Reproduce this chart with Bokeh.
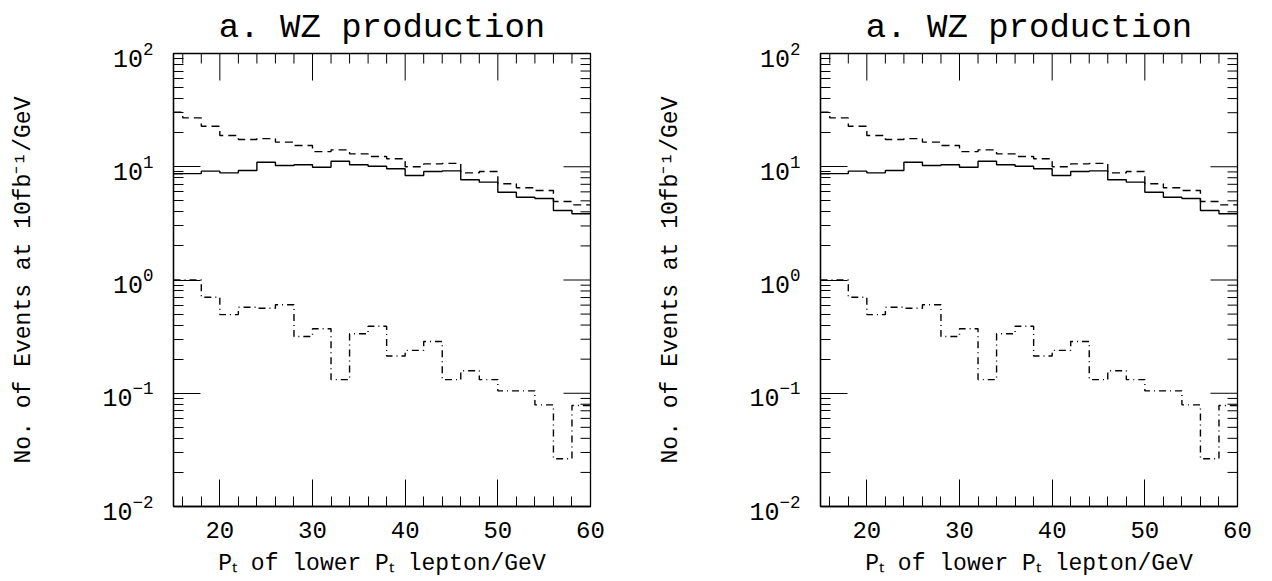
from bokeh.plotting import figure
from bokeh.models import FixedTicker, Range1d
from bokeh.layouts import row
from bokeh.embed import file_html
from bokeh.resources import INLINE

# ---- data ----
bin_edges = [15, 16, 18, 20, 22, 24, 26, 28, 30, 32, 34, 36, 38, 40,
             42, 44, 46, 48, 50, 52, 54, 56, 58, 60]

solid_vals = [8.67, 8.7, 9.14, 8.83, 9.27, 10.96, 10.25, 10.4, 9.9, 11.2,
              10.4, 10.1, 9.6, 8.37, 9.08, 9.2, 7.67, 7.31, 5.96, 5.38,
              5.25, 4.11, 3.85]

dashed_vals = [30.3, 27.0, 22.8, 18.9, 17.4, 17.7, 16.5, 15.4, 13.6, 14.1,
               13.0, 12.3, 11.76, 10.0, 10.6, 10.7, 8.83, 9.08, 7.07, 6.52,
               6.17, 4.93, 4.61]

dashdot_vals = [1.0, 1.0, 0.705, 0.495, 0.575, 0.563, 0.604, 0.317, 0.371,
                0.132, 0.335, 0.391, 0.213, 0.239, 0.286, 0.132, 0.158,
                0.132, 0.105, 0.105, 0.079, 0.0264, 0.078]

x_limits = [15, 60]
y_limits = [0.01, 100]
x_major_ticks = [20, 30, 40, 50, 60]
x_minor_ticks = [16, 18, 22, 24, 26, 28, 32, 34, 36, 38, 42, 44, 46, 48,
                 52, 54, 56, 58]
y_major_ticks = [0.01, 0.1, 1, 10, 100]
y_minor_ticks = [0.02, 0.03, 0.04, 0.05, 0.06, 0.07, 0.08, 0.09,
                 0.2, 0.3, 0.4, 0.5, 0.6, 0.7, 0.8, 0.9,
                 2, 3, 4, 5, 6, 7, 8, 9,
                 20, 30, 40, 50, 60, 70, 80, 90]

title_text = "a. WZ production"
x_label = "P\u209c of lower P\u209c lepton/GeV"
y_label = "No. of Events at 10fb\u207b\u00b9/GeV"

FONT = "Liberation Mono"
MAJOR_LEN = 27
MINOR_LEN = 10


def style_axis(ax):
    ax.major_tick_in = MAJOR_LEN
    ax.major_tick_out = 0
    ax.minor_tick_in = MINOR_LEN
    ax.minor_tick_out = 0
    ax.major_tick_line_color = "black"
    ax.minor_tick_line_color = "black"
    ax.major_tick_line_width = 1
    ax.minor_tick_line_width = 1
    ax.axis_line_color = "black"
    ax.axis_line_width = 1.3
    ax.major_label_text_font = FONT
    ax.major_label_text_color = "black"
    ax.axis_label_text_font = FONT
    ax.axis_label_text_font_style = "normal"
    ax.axis_label_text_color = "black"


def make_panel(border_left, border_right):
    p = figure(x_range=Range1d(*x_limits), y_range=Range1d(*y_limits),
               y_axis_type="log", frame_width=417, frame_height=453,
               min_border_left=border_left, min_border_right=border_right,
               min_border_top=53, min_border_bottom=75,
               output_backend="svg", toolbar_location=None,
               title=title_text)
    p.title.text_font = FONT
    p.title.text_font_size = "34px"
    p.title.text_font_style = "normal"
    p.title.align = "center"
    p.title.vertical_align = "top"
    p.title.text_color = "black"
    p.title.standoff = 10
    p.grid.visible = False
    p.outline_line_color = "black"
    p.outline_line_width = 1.3
    p.background_fill_color = "white"
    p.border_fill_color = "white"

    xa = p.xaxis[0]
    xa.ticker = FixedTicker(ticks=x_major_ticks, minor_ticks=x_minor_ticks)
    style_axis(xa)
    xa.major_label_text_font_size = "24px"
    xa.major_label_standoff = 15
    xa.axis_label = x_label
    xa.axis_label_text_font_size = "23px"
    xa.axis_label_standoff = 10

    ya = p.yaxis[0]
    ya.ticker = FixedTicker(ticks=y_major_ticks, minor_ticks=y_minor_ticks)
    style_axis(ya)
    ya.major_label_text_font_size = "25px"
    ya.major_label_standoff = 20
    ya.axis_label = y_label
    ya.axis_label_text_font_size = "23px"
    ya.axis_label_standoff = 62

    # inward ticks on the top and right edges of the frame
    top_y = y_limits[1]
    right_x = x_limits[1]
    p.ray(x=x_major_ticks, y=[top_y] * len(x_major_ticks), length=MAJOR_LEN,
          length_units="screen", angle=-90, angle_units="deg",
          line_color="black", line_width=1)
    p.ray(x=x_minor_ticks, y=[top_y] * len(x_minor_ticks), length=MINOR_LEN,
          length_units="screen", angle=-90, angle_units="deg",
          line_color="black", line_width=1)
    p.ray(x=[right_x] * len(y_major_ticks), y=y_major_ticks, length=MAJOR_LEN,
          length_units="screen", angle=180, angle_units="deg",
          line_color="black", line_width=1)
    p.ray(x=[right_x] * len(y_minor_ticks), y=y_minor_ticks, length=MINOR_LEN,
          length_units="screen", angle=180, angle_units="deg",
          line_color="black", line_width=1)

    p.step(x=bin_edges, y=solid_vals + [solid_vals[-1]], mode="after",
           line_color="black", line_width=1.4)
    p.step(x=bin_edges, y=dashed_vals + [dashed_vals[-1]], mode="after",
           line_color="black", line_width=1.4, line_dash="8 5")
    p.step(x=bin_edges, y=dashdot_vals + [dashdot_vals[-1]], mode="after",
           line_color="black", line_width=1.4, line_dash="7 4 1 4")
    return p


p1 = make_panel(173, 30)
p2 = make_panel(200, 35)
layout = row(p1, p2)

open("out.html", "w").write(file_html(layout, INLINE))
